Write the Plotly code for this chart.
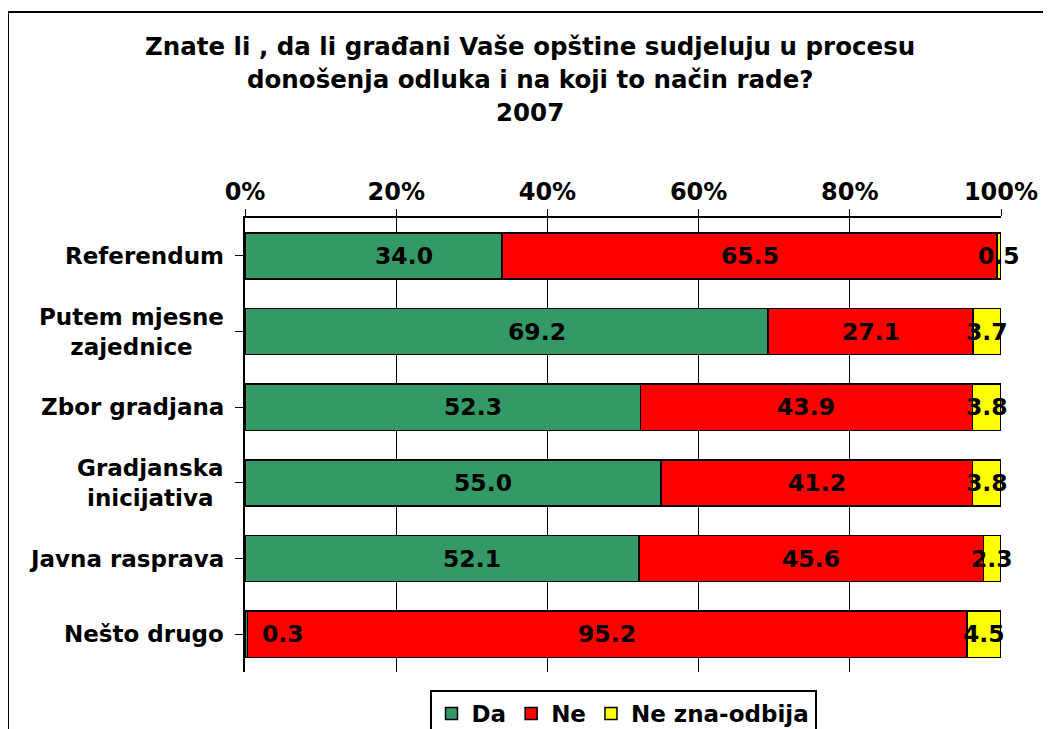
import plotly.graph_objects as go

categories = ["Referendum", "Putem mjesne<br>zajednice", "Zbor gradjana",
              "Gradjanska<br>inicijativa", "Javna rasprava", "Nešto drugo"]
da = [34.0, 69.2, 52.3, 55.0, 52.1, 0.3]
ne = [65.5, 27.1, 43.9, 41.2, 45.6, 95.2]
ne_zna = [0.5, 3.7, 3.8, 3.8, 2.3, 4.5]
series_names = ["Da", "Ne", "Ne zna-odbija"]
colors = ["#339966", "#FF0000", "#FFFF00"]
title_lines = ["Znate li , da li građani Vaše opštine sudjeluju u procesu",
               "donošenja odluka i na koji to način rade?", "2007"]
tick_vals = [0, 20, 40, 60, 80, 100]

FONT = "Verdana, DejaVu Sans, sans-serif"
ys = list(range(len(categories)))
series = [da, ne, ne_zna]
label_shift = {"Da": 30, "Ne": 0, "Ne zna-odbija": 0}

fig = go.Figure()
for name, vals, col in zip(series_names, series, colors):
    fig.add_trace(go.Bar(
        y=ys, x=vals, name=name, orientation="h",
        marker=dict(color=col, line=dict(color="black", width=1.5)),
        hoverinfo="skip",
    ))

label_font = dict(family=FONT, size=23.5, color="black", weight=700)
annotations = []
base = [0.0] * len(ys)
for name, vals in zip(series_names, series):
    for i, v in enumerate(vals):
        if name == "Da" and v < 1:
            # tiny segment: label sits just inside the next bar
            annotations.append(dict(x=v, y=ys[i], xref="x", yref="y", text=f"{v:.1f}",
                                    showarrow=False, xanchor="left", xshift=13,
                                    font=label_font))
        else:
            annotations.append(dict(x=base[i] + v / 2, y=ys[i], xref="x", yref="y",
                                    text=f"{v:.1f}", showarrow=False, xanchor="center",
                                    xshift=label_shift[name], font=label_font))
        base[i] += v

# category labels (centered multi-line)
for i, c in enumerate(categories):
    annotations.append(dict(x=0, y=ys[i], xref="paper", yref="y", text=c,
                            showarrow=False, xanchor="right", xshift=-19, align="center",
                            font=dict(family=FONT, size=23, color="black", weight=700)))
# title lines
for yy, line in zip([1.3788, 1.3040, 1.2313], title_lines):
    annotations.append(dict(x=0.377, y=yy, xref="paper", yref="paper", text=line,
                            showarrow=False, xanchor="center", yanchor="middle",
                            font=dict(family=FONT, size=24.5, color="black", weight=700)))

fig.update_layout(
    width=1051, height=729,
    margin=dict(l=237, r=58, t=210, b=65),
    barmode="stack", bargap=0.39,
    paper_bgcolor="white", plot_bgcolor="white",
    showlegend=True,
    legend=dict(orientation="h", x=0.5, xanchor="center", xref="paper",
                y=0.0645, yanchor="top", yref="container",
                bordercolor="black", borderwidth=2, tracegroupgap=0,
                font=dict(family=FONT, size=23, color="black", weight=700),
                itemwidth=30, traceorder="normal"),
    annotations=annotations,
    shapes=[dict(type="rect", xref="paper", yref="paper",
                 x0=-0.3135, x1=1.2, y0=-0.3, y1=1.4537,
                 line=dict(color="black", width=2), fillcolor="rgba(0,0,0,0)", layer="below")],
    xaxis=dict(side="top", range=[0, 100], tickvals=tick_vals,
               ticktext=[f"{t}%" for t in tick_vals],
               showgrid=True, gridcolor="black", gridwidth=1, zeroline=False,
               showline=True, linecolor="black", linewidth=1.5,
               ticks="outside", ticklen=7, tickcolor="black",
               tickfont=dict(family=FONT, size=24, color="black", weight=700)),
    yaxis=dict(range=[len(categories) - 0.5, -0.5], tickmode="array", tickvals=ys,
               ticktext=[""] * len(ys), showticklabels=False,
               showline=True, linecolor="black", linewidth=1.5,
               ticks="outside", tickson="boundaries", ticklen=8, tickcolor="black",
               showgrid=False, zeroline=False),
)

fig.write_html("out.html")
